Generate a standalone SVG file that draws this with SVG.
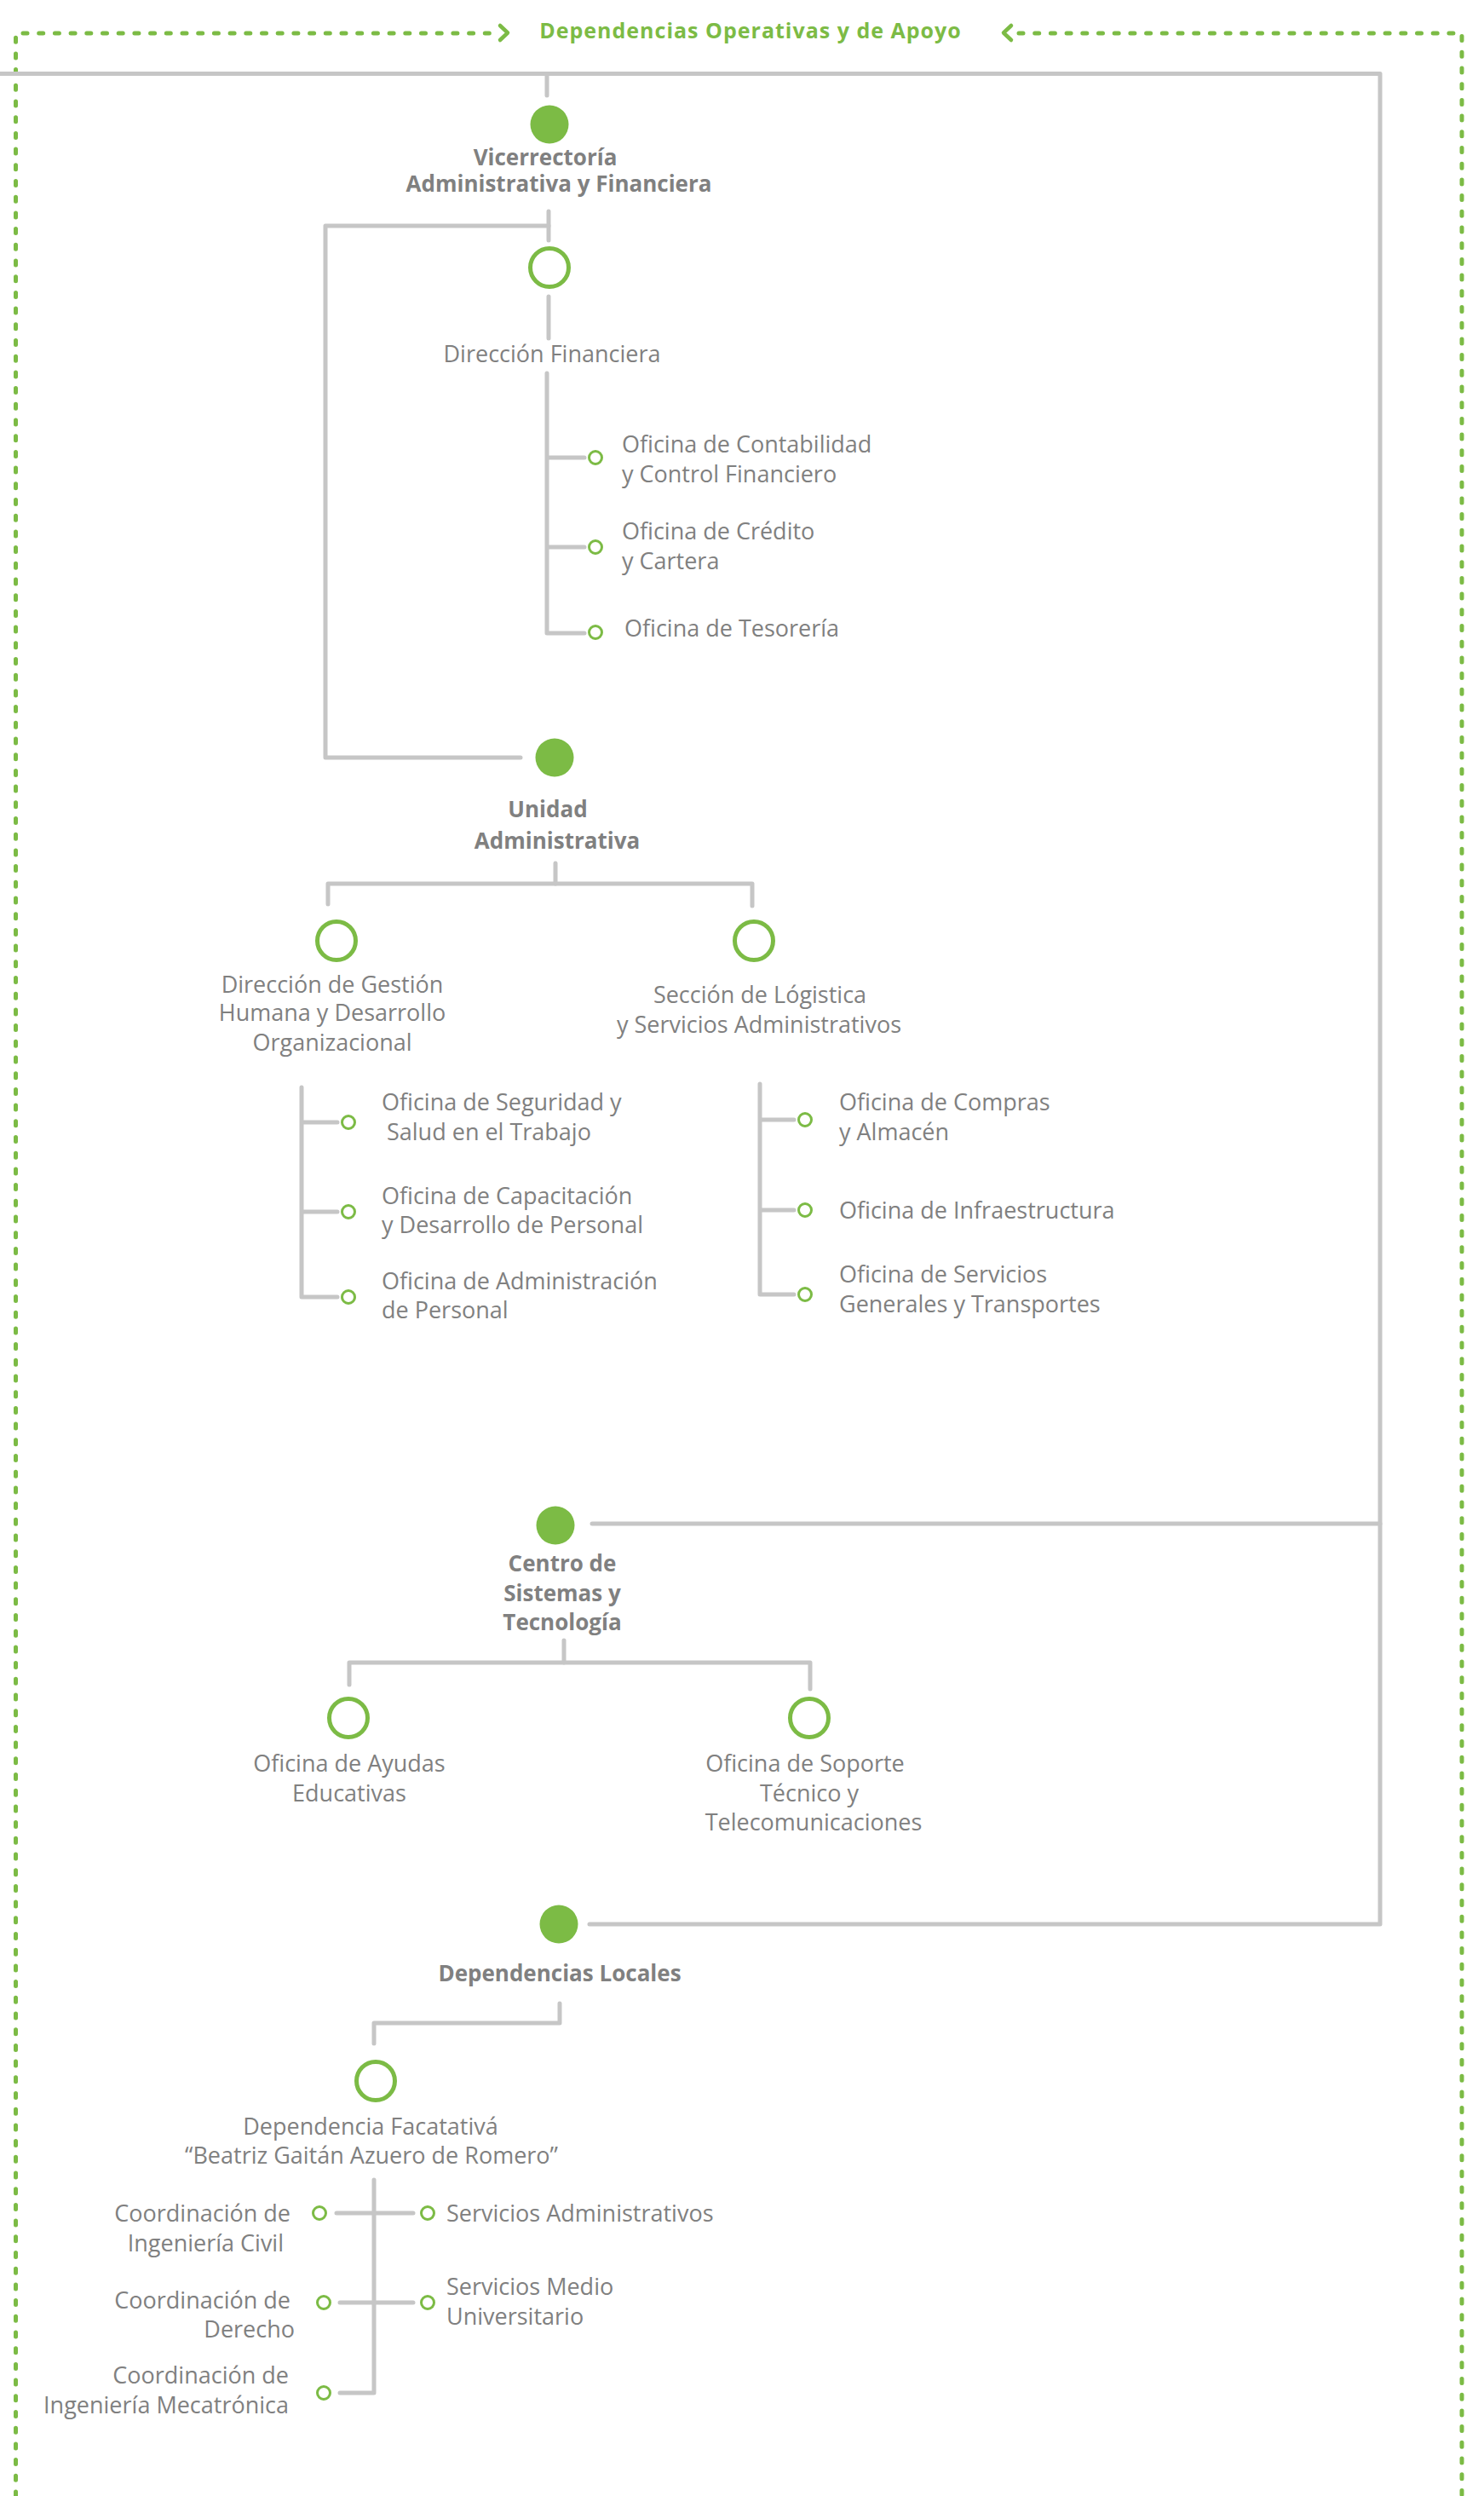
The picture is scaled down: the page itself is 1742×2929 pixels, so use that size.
<svg xmlns="http://www.w3.org/2000/svg" width="1742" height="2929" viewBox="0 0 1742 2929">
<style>
.bg{fill:#ffffff}
.ln{fill:none;stroke:#c6c6c6;stroke-width:5;stroke-linecap:round;stroke-linejoin:round}
.dot{fill:none;stroke:#7cbb45;stroke-width:5;stroke-linecap:round;stroke-dasharray:5 13.7}
.chev{fill:none;stroke:#7cbb45;stroke-width:4.5;stroke-linecap:round;stroke-linejoin:round}
.full{fill:#7cbb45}
.open{fill:#ffffff;stroke:#7cbb45;stroke-width:5}
.small{fill:#ffffff;stroke:#7cbb45;stroke-width:3}
text{font-family:"Open Sans","Noto Sans","Liberation Sans",sans-serif;font-size:27px;fill:#808080}
.b{font-weight:700;font-size:26px}
.c{text-anchor:middle}
.e{text-anchor:end}
.title{font-size:25px;font-weight:700;fill:#7cbb45;letter-spacing:1px;text-anchor:middle}
</style>
<rect class="bg" x="0" y="0" width="1742" height="2929"/>
<g id="border">
<path class="dot" d="M18.5,2929 V39 H578"/>
<path class="dot" d="M1196,39 H1716 V2929"/>
<path class="chev" d="M587,30 L596,38.5 L587,47"/>
<path class="chev" d="M1187,30 L1178,38.5 L1187,47"/>
<text id="title" class="title" x="881" y="45">Dependencias Operativas y de Apoyo</text>
</g>
<g id="connectors">
<path class="ln" d="M-5,86.5 H1620 V2258 H692"/>
<path class="ln" d="M1620,1788 H695"/>
<path class="ln" d="M642,86.5 V112"/>
<path class="ln" d="M644,248 V282"/>
<path class="ln" d="M644,265 H382 V889 H611"/>
<path class="ln" d="M644,348 V397"/>
<path class="ln" d="M642,438 V743 H686 M642,537 H686 M642,642 H686"/>
<path class="ln" d="M652,1013 V1037"/>
<path class="ln" d="M385,1061 V1037 H883 V1063"/>
<path class="ln" d="M354,1276 V1522 H396 M354,1317 H396 M354,1422 H396"/>
<path class="ln" d="M892,1272 V1519 H932 M892,1314 H932 M892,1420 H932"/>
<path class="ln" d="M662,1925 V1951"/>
<path class="ln" d="M410,1977 V1951 H951 V1982"/>
<path class="ln" d="M657,2351 V2374 H439 V2398"/>
<path class="ln" d="M439,2558 V2808 H399 M395,2597 H485 M399,2702 H485"/>
</g>
<g id="vicerrectoria">
<circle class="full" cx="645" cy="146" r="22.5"/>
<text class="b c" x="640" y="194">Vicerrectoría</text>
<text class="b c" x="656" y="225">Administrativa y Financiera</text>
</g>
<g id="direccion-financiera">
<circle class="open" cx="645" cy="314" r="22.5"/>
<text class="c" x="648" y="425">Dirección Financiera</text>
</g>
<g id="of-contabilidad">
<circle class="small" cx="699" cy="537" r="7.5"/>
<text x="730" y="531">Oficina de Contabilidad</text>
<text x="730" y="566">y Control Financiero</text>
</g>
<g id="of-credito">
<circle class="small" cx="699" cy="642" r="7.5"/>
<text x="730" y="633">Oficina de Crédito</text>
<text x="730" y="668">y Cartera</text>
</g>
<g id="of-tesoreria">
<circle class="small" cx="699" cy="742" r="7.5"/>
<text x="733" y="747">Oficina de Tesorería</text>
</g>
<g id="unidad-administrativa">
<circle class="full" cx="651" cy="889" r="22.5"/>
<text class="b c" x="643" y="959">Unidad</text>
<text class="b c" x="654" y="996">Administrativa</text>
</g>
<g id="gestion-humana">
<circle class="open" cx="395" cy="1104" r="22.5"/>
<text class="c" x="390" y="1165">Dirección de Gestión</text>
<text class="c" x="390" y="1198">Humana y Desarrollo</text>
<text class="c" x="390" y="1233">Organizacional</text>
</g>
<g id="logistica">
<circle class="open" cx="885" cy="1104" r="22.5"/>
<text class="c" x="892" y="1177">Sección de Lógistica</text>
<text class="c" x="891" y="1212">y Servicios Administrativos</text>
</g>
<g id="of-seguridad">
<circle class="small" cx="409" cy="1317" r="7.5"/>
<text x="448" y="1303">Oficina de Seguridad y</text>
<text x="454" y="1338">Salud en el Trabajo</text>
</g>
<g id="of-capacitacion">
<circle class="small" cx="409" cy="1422" r="7.5"/>
<text x="448" y="1413">Oficina de Capacitación</text>
<text x="448" y="1447">y Desarrollo de Personal</text>
</g>
<g id="of-administracion">
<circle class="small" cx="409" cy="1522" r="7.5"/>
<text x="448" y="1513">Oficina de Administración</text>
<text x="448" y="1547">de Personal</text>
</g>
<g id="of-compras">
<circle class="small" cx="945" cy="1314" r="7.5"/>
<text x="985" y="1303">Oficina de Compras</text>
<text x="985" y="1338">y Almacén</text>
</g>
<g id="of-infraestructura">
<circle class="small" cx="945" cy="1420" r="7.5"/>
<text x="985" y="1430">Oficina de Infraestructura</text>
</g>
<g id="of-servicios">
<circle class="small" cx="945" cy="1519" r="7.5"/>
<text x="985" y="1505">Oficina de Servicios</text>
<text x="985" y="1540">Generales y Transportes</text>
</g>
<g id="centro-sistemas">
<circle class="full" cx="652" cy="1790" r="22.5"/>
<text class="b c" x="660" y="1844">Centro de</text>
<text class="b c" x="660" y="1879">Sistemas y</text>
<text class="b c" x="660" y="1913">Tecnología</text>
</g>
<g id="of-ayudas">
<circle class="open" cx="409" cy="2016" r="22.5"/>
<text class="c" x="410" y="2079">Oficina de Ayudas</text>
<text class="c" x="410" y="2114">Educativas</text>
</g>
<g id="of-soporte">
<circle class="open" cx="950" cy="2016" r="22.5"/>
<text class="c" x="945" y="2079">Oficina de Soporte</text>
<text class="c" x="950" y="2114">Técnico y</text>
<text class="c" x="955" y="2148">Telecomunicaciones</text>
</g>
<g id="dependencias-locales">
<circle class="full" cx="656" cy="2258" r="22.5"/>
<text class="b c" x="657" y="2325">Dependencias Locales</text>
</g>
<g id="facatativa">
<circle class="open" cx="441" cy="2442" r="22.5"/>
<text class="c" x="435" y="2505">Dependencia Facatativá</text>
<text class="c" x="436" y="2539">“Beatriz Gaitán Azuero de Romero”</text>
</g>
<g id="coord-civil">
<circle class="small" cx="375" cy="2597" r="7.5"/>
<text class="e" x="341" y="2607">Coordinación de</text>
<text class="e" x="333" y="2642">Ingeniería Civil</text>
</g>
<g id="coord-derecho">
<circle class="small" cx="380" cy="2702" r="7.5"/>
<text class="e" x="341" y="2709">Coordinación de</text>
<text class="e" x="346" y="2743">Derecho</text>
</g>
<g id="coord-mecatronica">
<circle class="small" cx="380" cy="2808" r="7.5"/>
<text class="e" x="339" y="2797">Coordinación de</text>
<text class="e" x="339" y="2832">Ingeniería Mecatrónica</text>
</g>
<g id="serv-administrativos">
<circle class="small" cx="502" cy="2597" r="7.5"/>
<text x="524" y="2607">Servicios Administrativos</text>
</g>
<g id="serv-medio">
<circle class="small" cx="502" cy="2702" r="7.5"/>
<text x="524" y="2693">Servicios Medio</text>
<text x="524" y="2728">Universitario</text>
</g>
</svg>
